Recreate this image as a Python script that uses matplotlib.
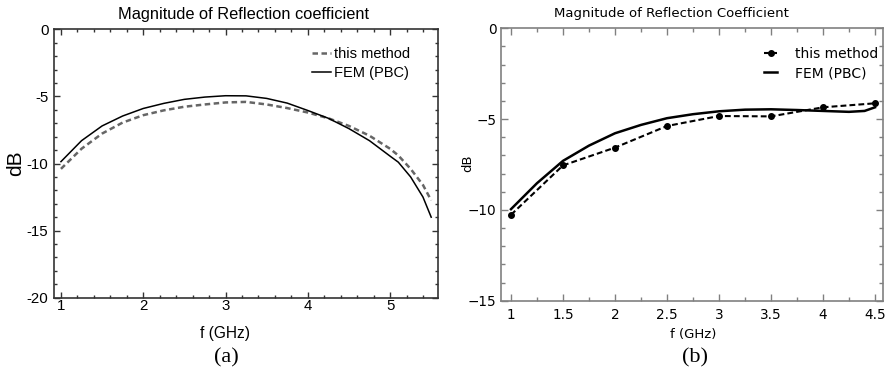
import matplotlib
matplotlib.use('Agg')
import matplotlib.pyplot as plt
from matplotlib import ticker

# panel (a) values
f_a = [1.0, 1.25, 1.5, 1.75, 2.0, 2.25, 2.5, 2.75, 3.0, 3.25, 3.5, 3.75,
       4.0, 4.25, 4.5, 4.75, 5.0, 5.1, 5.25, 5.4, 5.5]
fem_a = [-9.86, -8.3, -7.2, -6.46, -5.9, -5.52, -5.22, -5.05, -4.95, -4.96, -5.15, -5.5,
         -6.05, -6.63, -7.4, -8.3, -9.45, -9.9, -11.0, -12.5, -14.0]
method_a = [-10.4, -8.9, -7.77, -6.95, -6.4, -6.04, -5.77, -5.6, -5.45, -5.41, -5.6, -5.87,
            -6.2, -6.63, -7.2, -7.93, -8.9, -9.4, -10.4, -11.6, -12.75]

# panel (b)
f_b_method = [1.0, 1.5, 2.0, 2.5, 3.0, 3.5, 4.0, 4.5]
method_b = [-10.27, -7.55, -6.57, -5.38, -4.83, -4.85, -4.35, -4.13]
f_b_fem = [1.0, 1.25, 1.5, 1.75, 2.0, 2.25, 2.5, 2.75, 3.0, 3.25, 3.5, 3.75,
           4.0, 4.25, 4.4, 4.5]
fem_b = [-9.96, -8.53, -7.3, -6.46, -5.78, -5.32, -4.95, -4.73, -4.57, -4.48, -4.46, -4.5,
         -4.55, -4.6, -4.55, -4.35]

fig = plt.figure(figsize=(8.89, 3.77), dpi=100)

# ---- (a) ----
ax1 = fig.add_axes([0.0607, 0.2103, 0.4323, 0.712])
ax1.plot(f_a, method_a, color='#666666', lw=1.8, ls=(0, (2.2, 1.4)), label='this method')
ax1.plot(f_a, fem_a, color='black', lw=1.1, label='FEM (PBC)')
ax1.set_xlim(0.915, 5.586)
ax1.set_ylim(-20, 0)
ax1.xaxis.set_major_locator(ticker.MultipleLocator(1))
ax1.xaxis.set_minor_locator(ticker.MultipleLocator(0.2))
ax1.yaxis.set_major_locator(ticker.MultipleLocator(5))
ax1.yaxis.set_minor_locator(ticker.MultipleLocator(1))
ax1.xaxis.set_major_formatter(ticker.FuncFormatter(lambda v, p: f'{v:g}'))
ax1.yaxis.set_major_formatter(ticker.FuncFormatter(lambda v, p: f'{v:g}'))
ax1.tick_params(which='both', direction='in', top=True, right=True, colors='#333333',
                labelcolor='black', labelsize=10.8, labelfontfamily='Liberation Sans')
ax1.tick_params(which='major', length=4.3, width=1, pad=1)
ax1.tick_params(which='minor', length=2.2, width=1)
ax1.tick_params(axis='y', which='major', pad=4)
for s in ax1.spines.values():
    s.set_color('#333333')
    s.set_linewidth(1.2)
ax1.set_title('Magnitude of Reflection coefficient', family='Liberation Sans',
              fontsize=11.8, x=0.492, pad=7.5)
ax1.set_xlabel('f (GHz)', family='Liberation Sans', fontsize=11.2)
ax1.xaxis.set_label_coords(0.445, -0.105)
ax1.set_ylabel('dB', family='Liberation Sans', fontsize=15)
ax1.yaxis.set_label_coords(-0.0755, 0.5)
ax1.legend(loc='upper left', bbox_to_anchor=(0.652, 0.96), frameon=False,
           prop={'family': 'Liberation Sans', 'size': 10.5},
           handlelength=1.3, handletextpad=0.25, borderpad=0, labelspacing=0.35)

# ---- (b) ----
ax2 = fig.add_axes([0.5632, 0.2024, 0.4297, 0.7225])
ax2.plot(f_b_method, method_b, color='black', lw=1.5, ls=(0, (2.8, 1.5)),
         marker='o', ms=4, label='this method')
ax2.plot(f_b_fem, fem_b, color='black', lw=1.8, label='FEM (PBC)')
ax2.set_xlim(0.901, 4.574)
ax2.set_ylim(-15, 0)
ax2.xaxis.set_major_locator(ticker.MultipleLocator(0.5))
ax2.xaxis.set_minor_locator(ticker.MultipleLocator(0.25))
ax2.yaxis.set_major_locator(ticker.MultipleLocator(5))
ax2.yaxis.set_minor_locator(ticker.MultipleLocator(1))
ax2.xaxis.set_major_formatter(ticker.FuncFormatter(lambda v, p: f'{v:g}'))
ax2.yaxis.set_major_formatter(ticker.FuncFormatter(lambda v, p: f'{v:g}'.replace('-', '\u2212')))
ax2.tick_params(which='both', direction='in', top=True, right=True, colors='#808080',
                labelcolor='black', labelsize=9.8, labelfontfamily='DejaVu Sans')
ax2.tick_params(which='major', length=5, width=1, pad=5)
ax2.tick_params(which='minor', length=3, width=1)
ax2.tick_params(axis='y', which='major', pad=3)
for s in ax2.spines.values():
    s.set_color('#808080')
    s.set_linewidth(1.2)
ax2.set_title('Magnitude of Reflection Coefficient', family='DejaVu Sans',
              fontsize=9.5, x=0.448, pad=8)
ax2.set_xlabel('f (GHz)', family='DejaVu Sans', fontsize=9.5)
ax2.xaxis.set_label_coords(0.504, -0.100)
ax2.set_ylabel('dB', family='DejaVu Sans', fontsize=9.5)
ax2.yaxis.set_label_coords(-0.069, 0.505)
ax2.legend(loc='upper left', bbox_to_anchor=(0.672, 0.957), frameon=False,
           prop={'family': 'DejaVu Sans', 'size': 10},
           handlelength=0.9, handletextpad=1.3, borderpad=0, labelspacing=0.38)

fig.text(226 / 889, 1 - 358 / 377, '(a)', family='Liberation Serif', fontsize=16,
         ha='center', va='center')
fig.text(695 / 889, 1 - 358 / 377, '(b)', family='Liberation Serif', fontsize=16,
         ha='center', va='center')

fig.savefig('out.png', dpi=100)
